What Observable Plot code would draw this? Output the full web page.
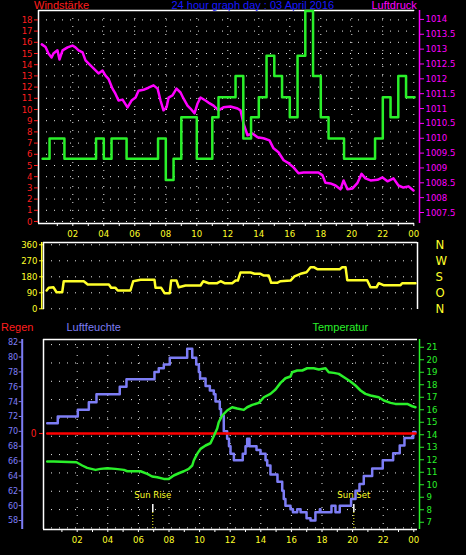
<!DOCTYPE html>
<html>
<head>
<meta charset="utf-8">
<script src="https://cdn.jsdelivr.net/npm/d3@7"></script>
<script src="https://cdn.jsdelivr.net/npm/@observablehq/plot@0.6"></script>
<style>
  html, body { margin: 0; padding: 0; background: #000; }
  #chart { position: relative; width: 466px; height: 555px; background: #000; overflow: hidden; }
  #chart svg { position: absolute; left: 0; }
  .lbl { position: absolute; white-space: nowrap; font-family: "Liberation Sans", Arial, sans-serif; font-size: 11px; line-height: 1; }
</style>
</head>
<body>
<div id="chart"></div>
<script>
// ---------------- DATA ----------------
const titleText = "24 hour graph day : 03 April 2016";
const labelHours = [2, 4, 6, 8, 10, 12, 14, 16, 18, 20, 22, 24];
const hourTicks = [1, 2, 3, 4, 5, 6, 7, 8, 9, 10, 11, 12, 13, 14, 15, 16, 17, 18, 19, 20, 21, 22, 23, 24];

// Top panel: wind speed (Windstärke) and pressure (Luftdruck)
const windTicks = [0, 1, 2, 3, 4, 5, 6, 7, 8, 9, 10, 11, 12, 13, 14, 15, 16, 17, 18];
const windTime  = [0.05, 0.5, 1.46, 3.5, 4.0, 4.5, 5.47, 7.5, 8.0, 8.5, 9.0, 10.0, 11.0, 11.4, 12.5, 13.0, 13.5, 14.0, 14.5, 15.0, 15.5, 16.0, 16.5, 17.0, 17.5, 18.0, 18.5, 19.5, 21.5, 22.0, 22.5, 23.0, 23.5, 24.05];
const windSpeed = [5.6, 7.4, 5.6, 7.4, 5.6, 7.4, 5.6, 7.4, 3.7, 5.6, 9.3, 5.6, 9.3, 11.1, 13.0, 7.4, 9.3, 11.1, 14.8, 13.0, 11.1, 9.3, 14.8, 18.8, 13.0, 9.3, 7.4, 5.6, 7.4, 11.1, 9.3, 13.0, 11.1, 11.1];

const pressureTicks = [1007.5, 1008, 1008.5, 1009, 1009.5, 1010, 1010.5, 1011, 1011.5, 1012, 1012.5, 1013, 1013.5, 1014];
const pressureTime = [0.0, 0.24, 0.43, 0.63, 0.75, 1.01, 1.14, 1.34, 1.66, 1.98, 2.17, 2.37, 2.63, 2.82, 3.01, 3.34, 3.66, 3.92, 4.11, 4.3, 4.56, 4.75, 4.95, 5.21, 5.53, 5.79, 6.05, 6.24, 6.56, 6.88, 7.21, 7.47, 7.66, 7.85, 8.05, 8.18, 8.43, 8.69, 8.95, 9.14, 9.4, 9.59, 9.85, 10.05, 10.24, 10.56, 10.75, 11.08, 11.4, 11.72, 12.17, 12.63, 12.82, 13.01, 13.27, 13.59, 13.92, 14.3, 14.69, 14.95, 15.27, 15.6, 15.92, 16.24, 16.56, 16.89, 17.34, 17.85, 18.11, 18.3, 18.62, 18.95, 19.27, 19.47, 19.72, 20.05, 20.37, 20.63, 20.88, 21.21, 21.66, 21.98, 22.3, 22.69, 23.01, 23.33, 23.66, 23.98];
const pressure = [1013.16, 1013.07, 1012.85, 1012.72, 1012.85, 1012.96, 1012.65, 1012.96, 1013.06, 1013.12, 1013.06, 1012.96, 1012.89, 1012.62, 1012.52, 1012.35, 1012.18, 1012.28, 1012.11, 1012.0, 1011.67, 1011.5, 1011.27, 1011.3, 1011.04, 1011.27, 1011.37, 1011.6, 1011.63, 1011.7, 1011.78, 1011.67, 1011.27, 1010.94, 1011.04, 1011.37, 1011.44, 1011.67, 1011.54, 1011.34, 1011.1, 1011.0, 1010.84, 1011.17, 1011.37, 1011.27, 1011.2, 1011.1, 1010.94, 1011.04, 1011.07, 1011.0, 1010.94, 1010.5, 1010.1, 1010.16, 1010.03, 1010.0, 1009.93, 1009.66, 1009.53, 1009.26, 1009.16, 1009.02, 1008.82, 1008.85, 1008.85, 1008.85, 1008.75, 1008.5, 1008.48, 1008.41, 1008.28, 1008.58, 1008.28, 1008.31, 1008.5, 1008.8, 1008.65, 1008.58, 1008.6, 1008.68, 1008.55, 1008.65, 1008.41, 1008.34, 1008.38, 1008.24];

// Middle panel: wind direction
const dirTicks = [0, 90, 180, 270, 360];
const dirNames = ["N", "O", "S", "W", "N"];
const dirTime = [0.0, 0.14, 0.45, 0.65, 1.02, 1.12, 2.43, 2.69, 4.07, 4.22, 4.5, 4.65, 5.48, 5.66, 6.14, 7.05, 7.12, 7.49, 7.71, 8.05, 8.14, 8.49, 8.64, 9.08, 10.06, 10.24, 10.6, 11.15, 11.37, 11.63, 12.13, 12.35, 12.5, 12.67, 13.33, 13.59, 13.98, 14.2, 14.52, 14.68, 15.07, 15.29, 15.94, 16.2, 16.6, 16.99, 17.25, 17.46, 17.69, 19.16, 19.32, 19.54, 19.65, 20.95, 21.17, 21.56, 21.71, 22.02, 23.13, 23.24, 24.11];
const direction = [103, 118, 121, 93, 93, 155, 155, 137, 137, 118, 118, 103, 103, 155, 163, 163, 118, 118, 88, 88, 159, 159, 121, 131, 131, 155, 144, 144, 155, 144, 144, 159, 159, 204, 204, 197, 197, 187, 187, 146, 146, 155, 159, 182, 197, 206, 234, 234, 223, 223, 234, 234, 161, 161, 121, 121, 144, 133, 133, 144, 144];

// Bottom panel: humidity (Luftfeuchte), temperature (Temperatur), rain (Regen)
const humTicks = [58, 60, 62, 64, 66, 68, 70, 72, 74, 76, 78, 80, 82];
const humTime = [0.04, 0.73, 2.04, 2.76, 3.26, 4.78, 5.22, 7.05, 7.33, 7.66, 8.05, 9.19, 9.52, 9.78, 9.95, 10.03, 10.39, 10.67, 10.93, 11.04, 11.32, 11.4, 11.58, 11.8, 11.92, 12.02, 12.24, 12.82, 13.0, 13.11, 13.26, 13.72, 13.98, 14.31, 14.42, 14.63, 15.09, 15.4, 15.5, 15.61, 15.94, 16.1, 16.38, 16.6, 16.99, 17.25, 17.57, 17.86, 17.9, 18.62, 18.88, 19.16, 19.9, 20.19, 20.45, 20.73, 21.28, 21.97, 22.65, 23.08, 23.39, 23.96, 24.11];
const humidity = [71.1, 72.0, 72.9, 73.9, 75.0, 76.0, 77.0, 78.0, 78.5, 79.0, 79.9, 81.1, 79.9, 79.0, 78.0, 77.1, 76.1, 75.5, 75.0, 74.0, 73.0, 72.1, 70.0, 69.0, 68.0, 67.0, 66.1, 67.0, 68.0, 69.0, 68.0, 67.5, 67.0, 66.1, 65.4, 64.2, 63.2, 62.0, 60.9, 60.0, 59.5, 59.1, 59.5, 59.1, 58.3, 58.0, 59.1, 59.5, 59.1, 60.0, 59.1, 60.0, 60.9, 62.0, 62.9, 64.0, 65.0, 66.1, 67.05, 68.1, 69.1, 69.9, 69.9];

const tempTicks = [7, 8, 9, 10, 11, 12, 13, 14, 15, 16, 17, 18, 19, 20, 21];
const tempTime = [0.04, 0.47, 1.95, 2.33, 2.65, 3.2, 3.52, 3.96, 4.5, 5.05, 5.27, 6.14, 6.58, 6.9, 7.23, 7.66, 7.99, 8.31, 8.64, 8.97, 9.29, 9.52, 9.62, 9.84, 10.06, 10.39, 10.71, 10.93, 11.15, 11.25, 11.48, 11.8, 12.13, 12.46, 12.89, 13.11, 13.44, 13.87, 14.2, 14.63, 14.96, 15.29, 15.61, 15.94, 16.05, 16.38, 16.71, 17.03, 17.46, 17.79, 18.23, 18.44, 18.77, 19.1, 19.54, 19.86, 20.19, 20.52, 20.84, 21.17, 21.71, 22.04, 22.48, 22.8, 23.57, 23.9, 24.11];
const temperature = [11.86, 11.86, 11.8, 11.54, 11.35, 11.19, 11.27, 11.32, 11.27, 11.19, 11.08, 11.08, 10.87, 10.66, 10.6, 10.47, 10.47, 10.74, 10.92, 11.08, 11.27, 11.54, 11.94, 12.47, 12.87, 13.14, 13.32, 13.9, 14.5, 15.0, 15.54, 15.94, 16.2, 16.1, 15.99, 16.2, 16.39, 16.55, 17.0, 17.27, 17.62, 18.15, 18.52, 18.66, 19.0, 19.14, 19.14, 19.32, 19.32, 19.22, 19.32, 19.0, 18.95, 18.87, 18.52, 18.26, 17.94, 17.54, 17.27, 17.14, 17.0, 16.74, 16.55, 16.47, 16.47, 16.28, 16.2];

const rainTicks = [0];
const rainTime = [0.04, 24.11];
const rain = [0, 0];

const sunTime = [6.94, 20.08];
const sunLabel = ["Sun Rise", "Sun Set"];

const gridRows = [0, 1, 2, 3, 4, 5, 6, 7, 8, 9, 10];

// ---------------- STYLE / LAYOUT ----------------
const FONT = "'Liberation Sans Narrow','DejaVu Sans Condensed','Liberation Sans',Arial,sans-serif";
const C = {
  red: "#ff1e1e", blue: "#1818ff", magenta: "#ff00ff", green: "#2af02a",
  yellow: "#ffff2a", hum: "#7d7df5", white: "#ffffff", dot: "#e8e8e8"
};
const DOT = "1,7";

// pixel <-> hour mapping for the two time frames
const TOP = {h0: 41.3, pph: 15.5};
const BOT = {h0: 46.1, pph: 15.3};
const dom = (m, left, right) => [(left - m.h0) / m.pph, (right - m.h0) / m.pph];

const zip = (xs, ys) => xs.map((x, i) => ({x, y: ys[i]}));
const pad2 = d => String(d % 24).padStart(2, "0");
const plain = d => String(d);

const chart = document.getElementById("chart");
function layer(top, height, m, xDomain, yDomain, marks) {
  const svg = Plot.plot({
    width: 466, height,
    marginTop: m[0], marginRight: m[1], marginBottom: m[2], marginLeft: m[3],
    x: {domain: xDomain, axis: null, label: null},
    y: {domain: yDomain, axis: null, label: null},
    style: {background: "transparent", overflow: "visible", fontFamily: FONT, fontSize: "9.5px", color: "white"},
    marks
  });
  svg.style.top = top + "px";
  chart.appendChild(svg);
}
function label(text, left, top, color) {
  const d = document.createElement("div");
  d.className = "lbl"; d.textContent = text;
  d.style.left = left + "px"; d.style.top = top + "px"; d.style.color = color;
  chart.appendChild(d);
}

// ---------------- TOP PANEL ----------------
const windDomain = [-0.18, 18.84];
const pressDomain = [1007.13, 1014.3];
const topBaseX = dom(TOP, 38, 414);
// base: grid, frame, left axis, time axis
layer(0, 245, [10, 52, 22, 38], topBaseX, windDomain, [
  Plot.gridY(windTicks, {stroke: C.dot, strokeOpacity: 1, strokeDasharray: DOT}),
  Plot.gridX(labelHours, {stroke: C.dot, strokeOpacity: 1, strokeDasharray: DOT}),
  Plot.ruleY(windDomain, {stroke: C.white, strokeWidth: 1.5}),
  Plot.ruleX([topBaseX[0]], {stroke: C.white, strokeWidth: 1.5}),
  Plot.axisY(windTicks, {anchor: "left", label: null, color: C.red, tickSize: 4, tickPadding: 2, tickFormat: plain, fontSize: 9.5}),
  Plot.axisX(hourTicks, {anchor: "bottom", label: null, color: C.white, tickSize: 3, tickFormat: () => ""}),
  Plot.axisX(labelHours, {anchor: "bottom", label: null, color: C.yellow, tickSize: 0, tickPadding: 7, tickFormat: pad2, fontSize: 9.5})
]);
// pressure
const topPX = dom(TOP, 38, 419);
layer(0, 245, [10, 47, 22, 38], topPX, pressDomain, [
  Plot.line(zip(pressureTime, pressure), {x: "x", y: "y", stroke: C.magenta, strokeWidth: 2.5}),
  Plot.ruleX([topPX[1]], {stroke: C.magenta, strokeWidth: 1.5}),
  Plot.axisY(pressureTicks, {anchor: "right", label: null, color: C.magenta, tickSize: 4, tickPadding: 2, tickFormat: plain, fontSize: 9.5})
]);
// wind speed step line
layer(0, 245, [10, 52, 22, 38], topBaseX, windDomain, [
  Plot.line(zip(windTime, windSpeed), {x: "x", y: "y", curve: "step-after", stroke: C.green, strokeWidth: 2.5})
]);

// ---------------- MIDDLE PANEL ----------------
const dirDomain = [-3.9, 372.9];
const midX = dom(BOT, 43, 417);
layer(230, 90, [12, 49, 11, 43], midX, dirDomain, [
  Plot.gridY(dirTicks, {stroke: C.dot, strokeOpacity: 1, strokeDasharray: DOT}),
  Plot.ruleY([dirDomain[1]], {stroke: C.white, strokeWidth: 1.5}),
  Plot.ruleX(midX, {stroke: C.white, strokeWidth: 1.5}),
  Plot.ruleX([midX[0]], {stroke: C.yellow, strokeWidth: 1.5, dx: -1.8}),
  Plot.axisY(dirTicks, {anchor: "left", label: null, color: C.yellow, tickSize: 4, tickPadding: 2, tickFormat: plain, fontSize: 9.5}),
  Plot.axisY(dirTicks, {anchor: "right", label: null, color: C.yellow, tickSize: 0, tickPadding: 18, fontSize: 13, tickFormat: d => dirNames[dirTicks.indexOf(d)]}),
  Plot.line(zip(dirTime, direction), {x: "x", y: "y", stroke: C.yellow, strokeWidth: 2.5})
]);

// ---------------- BOTTOM PANEL ----------------
const gridDomain = [-0.087, 10.28];
const humDomain = [56.79, 82.36];
const tempDomain = [6.42, 21.62];
const rainDomain = [-1.02, 1];
const botX = dom(BOT, 43, 417);
const sun = sunTime.map((t, i) => ({t, label: sunLabel[i]}));
// base
layer(330, 225, [9, 49, 26, 43], botX, gridDomain, [
  Plot.gridY(gridRows, {stroke: C.dot, strokeOpacity: 1, strokeDasharray: DOT}),
  Plot.gridX(labelHours, {stroke: C.dot, strokeOpacity: 1, strokeDasharray: DOT}),
  Plot.ruleY(gridDomain, {stroke: C.white, strokeWidth: 1.5}),
  Plot.ruleX([botX[0]], {stroke: C.white, strokeWidth: 1.5}),
  Plot.axisX(hourTicks, {anchor: "bottom", label: null, color: C.white, tickSize: 3, tickFormat: () => ""}),
  Plot.axisX(labelHours, {anchor: "bottom", label: null, color: C.yellow, tickSize: 0, tickPadding: 7, tickFormat: pad2, fontSize: 9.5}),
  Plot.ruleX(sun, {x: "t", stroke: C.yellow, strokeDasharray: "1,2", insetTop: 173}),
  Plot.ruleX(sun, {x: "t", stroke: C.white, strokeWidth: 1.5, insetTop: 165, insetBottom: 17}),
  Plot.text(sun, {x: "t", text: "label", frameAnchor: "bottom", dy: -32, fill: C.yellow, fontSize: 9.5})
]);
// humidity
const humX = dom(BOT, 21.7, 417);
layer(330, 225, [9, 49, 26, 21.7], humX, humDomain, [
  Plot.ruleX([humX[0]], {stroke: C.hum, strokeWidth: 2}),
  Plot.axisY(humTicks, {anchor: "left", label: null, color: C.hum, tickSize: 3, tickPadding: 1, tickFormat: plain, fontSize: 9}),
  Plot.line(zip(humTime, humidity), {x: "x", y: "y", curve: "step-after", stroke: C.hum, strokeWidth: 2.5})
]);
// rain
layer(330, 225, [9, 49, 26, 43], botX, rainDomain, [
  Plot.axisY(rainTicks, {anchor: "left", label: null, color: C.red, tickSize: 4, tickPadding: 3, tickFormat: plain, fontSize: 10}),
  Plot.line(zip(rainTime, rain), {x: "x", y: "y", stroke: "#ff0000", strokeWidth: 2.5})
]);
// temperature
const tempX = dom(BOT, 43, 419);
layer(330, 225, [9, 47, 26, 43], tempX, tempDomain, [
  Plot.ruleX([tempX[1]], {stroke: C.green, strokeWidth: 1.5}),
  Plot.axisY(tempTicks, {anchor: "right", label: null, color: C.green, tickSize: 4, tickPadding: 3, tickFormat: plain, fontSize: 9.5}),
  Plot.line(zip(tempTime, temperature), {x: "x", y: "y", stroke: C.green, strokeWidth: 2.5})
]);

// ---------------- HEADINGS ----------------
label("Windstärke", 34, 0, C.red);
label(titleText, 171.5, 0, C.blue);
label("Luftdruck", 371.5, 0, C.magenta);
label("Regen", 1, 321.5, C.red);
label("Luftfeuchte", 66.5, 321.5, C.hum);
label("Temperatur", 312.5, 321.5, C.green);
</script>
</body>
</html>
